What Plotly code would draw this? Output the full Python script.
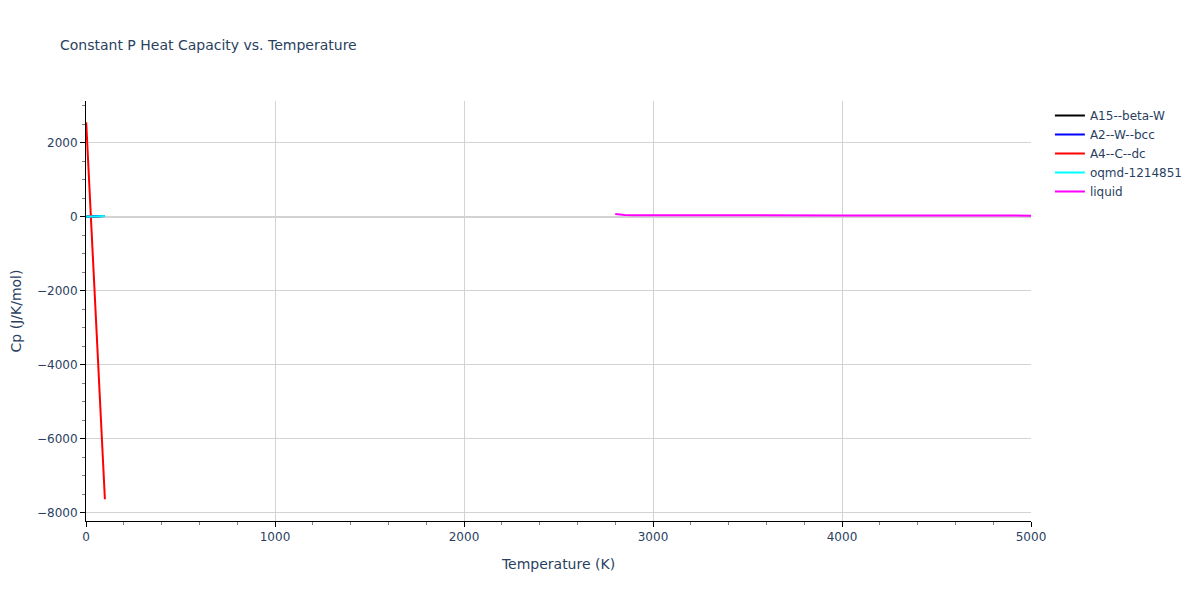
import plotly.graph_objects as go

# low temperature solid phases (T in K, Cp in J/K/mol)
t_solid = [1, 10, 20, 30, 40, 50, 60, 70, 80, 90, 100]
cp_a15 = [0.0, 0.3, 2.1, 5.6, 9.4, 12.8, 15.5, 17.6, 19.2, 20.4, 21.3]
cp_a2 = [0.0, 0.2, 1.8, 5.0, 8.7, 12.1, 14.9, 17.1, 18.8, 20.1, 21.0]
cp_oqmd = [0.0, 0.3, 2.0, 5.4, 9.1, 12.5, 15.2, 17.4, 19.0, 20.3, 21.2]

t_a4 = [1, 100]
cp_a4 = [2560, -7640]

t_liquid = [2800, 2850, 2900, 3000, 3200, 3400, 3600, 3800, 4000, 4200, 4400, 4600, 4800, 5000]
cp_liquid = [80, 52, 45, 43, 42, 41.5, 41, 40.5, 40, 39.5, 39, 38, 36, 33]

fig = go.Figure()
fig.add_trace(go.Scatter(x=t_solid, y=cp_a15, mode='lines', name='A15--beta-W',
                         line=dict(color='black', width=2)))
fig.add_trace(go.Scatter(x=t_solid, y=cp_a2, mode='lines', name='A2--W--bcc',
                         line=dict(color='blue', width=2)))
fig.add_trace(go.Scatter(x=t_a4, y=cp_a4, mode='lines', name='A4--C--dc',
                         line=dict(color='red', width=2)))
fig.add_trace(go.Scatter(x=t_solid, y=cp_oqmd, mode='lines', name='oqmd-1214851',
                         line=dict(color='cyan', width=2)))
fig.add_trace(go.Scatter(x=t_liquid, y=cp_liquid, mode='lines', name='liquid',
                         line=dict(color='magenta', width=2)))

axis_style = dict(showline=True, linecolor='black', linewidth=1,
                  ticks='outside', tickcolor='black', ticklen=5,
                  showgrid=True, gridcolor='lightgrey',
                  zeroline=True, zerolinecolor='lightgrey', zerolinewidth=2,
                  automargin=False,
                  minor=dict(ticks='outside', ticklen=3, tickcolor='gray', showgrid=False))

fig.update_layout(title=dict(text='Constant P Heat Capacity vs. Temperature',
                             font=dict(size=14), x=0.0433, y=0.947),
                  xaxis_title='Temperature (K)',
                  yaxis_title='Cp (J/K/mol)',
                  font=dict(family='DejaVu Sans', size=12),
                  plot_bgcolor='white',
                  margin=dict(l=78, r=177, t=93, b=87),
                  width=1200, height=600)
fig.update_xaxes(range=[0, 5000], dtick=1000, **axis_style)
fig.update_yaxes(range=[-8230, 3135], dtick=2000, **axis_style)

fig.write_html("out.html")
